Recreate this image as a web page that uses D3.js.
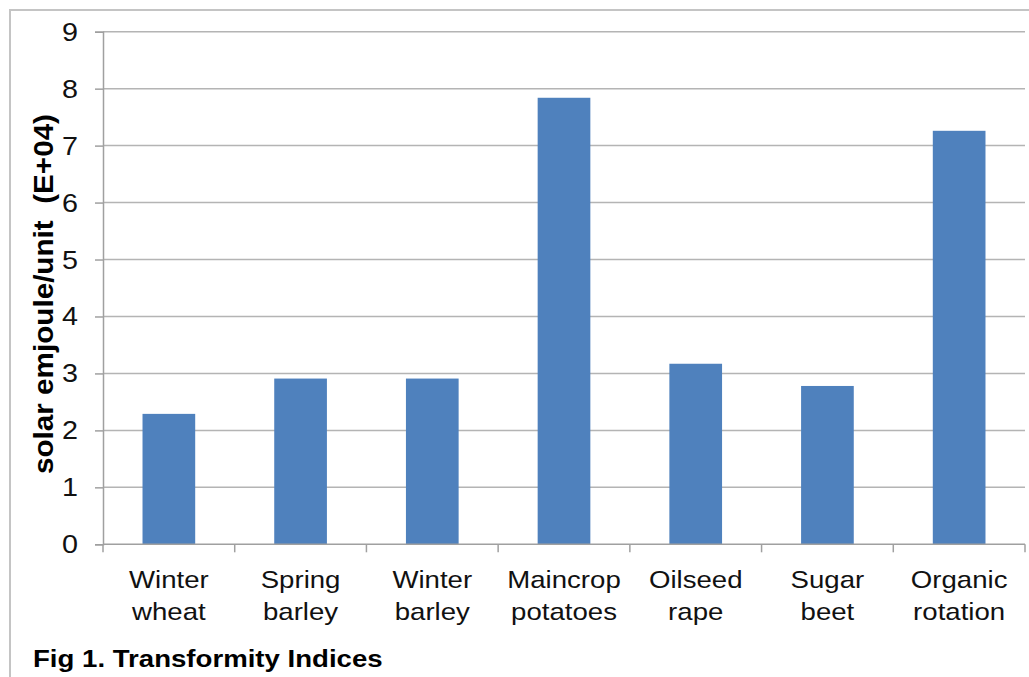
<!DOCTYPE html>
<html>
<head>
<meta charset="utf-8">
<script src="https://cdn.jsdelivr.net/npm/d3@7"></script>
<style>
  html, body { margin: 0; padding: 0; background: #fff; }
  svg { display: block; font-family: "Liberation Sans", Arial, sans-serif; }
</style>
</head>
<body>
<svg id="chart" width="1029" height="677"></svg>
<script>
const categories = [
  ["Winter", "wheat"],
  ["Spring", "barley"],
  ["Winter", "barley"],
  ["Maincrop", "potatoes"],
  ["Oilseed", "rape"],
  ["Sugar", "beet"],
  ["Organic", "rotation"]
];
const values = [2.29, 2.91, 2.91, 7.84, 3.17, 2.78, 7.26];
const yTicks = [0, 1, 2, 3, 4, 5, 6, 7, 8, 9];
const yLabel = "solar emjoule/unit  (E+04)";
const title = "Fig 1. Transformity Indices";

const svg = d3.select("#chart");
const plot = { left: 103, right: 1025, top: 31.7, bottom: 544.3 };
const sx = 1.15; // horizontal stretch of the text seen in the reference

// outer border (left & top visible)
svg.append("path")
  .attr("d", "M10,677 V10 H1029")
  .attr("fill", "none")
  .attr("stroke", "#c4c4c4")
  .attr("stroke-width", 2);

const x = d3.scaleBand()
  .domain(d3.range(categories.length))
  .range([plot.left, plot.right])
  .paddingInner(0.6)
  .paddingOuter(0.3);

const xEdge = d3.scaleLinear()
  .domain([0, categories.length])
  .range([plot.left, plot.right]);

const y = d3.scaleLinear()
  .domain([0, 9])
  .range([plot.bottom, plot.top]);

// gridlines
svg.append("g")
  .selectAll("line")
  .data(yTicks.filter(d => d > 0))
  .join("line")
  .attr("x1", plot.left)
  .attr("x2", plot.right)
  .attr("y1", d => y(d))
  .attr("y2", d => y(d))
  .attr("stroke", "#b4b4b4")
  .attr("stroke-width", 1.5);

// y axis (line + ticks via d3 axis, labels drawn stretched)
const yAxis = d3.axisLeft(y).tickValues(yTicks).tickSize(8).tickFormat("");
const gy = svg.append("g").attr("transform", `translate(${plot.left},0)`).call(yAxis);
gy.select(".domain").attr("stroke", "#a0a0a0").attr("stroke-width", 1.5);
gy.selectAll(".tick line").attr("stroke", "#a0a0a0").attr("stroke-width", 1.5);

svg.append("g")
  .selectAll("text")
  .data(yTicks)
  .join("text")
  .attr("transform", d => `translate(78,${y(d)}) scale(${sx},1)`)
  .attr("text-anchor", "end")
  .attr("dy", "0.36em")
  .attr("font-size", 25)
  .attr("fill", "#111")
  .text(d => d3.format("d")(d));

// bars
svg.append("g")
  .selectAll("rect")
  .data(values)
  .join("rect")
  .attr("x", (d, i) => x(i))
  .attr("width", x.bandwidth())
  .attr("y", d => y(d))
  .attr("height", d => y(0) - y(d))
  .attr("fill", "#4f81bd");

// x axis
svg.append("line")
  .attr("x1", plot.left).attr("x2", plot.right)
  .attr("y1", y(0)).attr("y2", y(0))
  .attr("stroke", "#a0a0a0").attr("stroke-width", 1.5);

svg.append("g")
  .selectAll("line")
  .data(d3.range(categories.length + 1))
  .join("line")
  .attr("x1", d => xEdge(d))
  .attr("x2", d => xEdge(d))
  .attr("y1", y(0))
  .attr("y2", y(0) + 8)
  .attr("stroke", "#a0a0a0")
  .attr("stroke-width", 1.5);

// category labels
const catG = svg.append("g")
  .selectAll("g")
  .data(categories)
  .join("g")
  .attr("transform", (d, i) => `translate(${x(i) + x.bandwidth() / 2},0)`);
catG.selectAll("text")
  .data(d => d)
  .join("text")
  .attr("transform", (d, i) => `translate(0,${588 + i * 32}) scale(${sx},1)`)
  .attr("text-anchor", "middle")
  .attr("font-size", 24)
  .attr("fill", "#111")
  .text(d => d);

// y label
svg.append("text")
  .attr("transform", `translate(53,294) rotate(-90)`)
  .attr("text-anchor", "middle")
  .attr("font-size", 27)
  .attr("font-weight", "bold")
  .attr("fill", "#000")
  .attr("textLength", 360)
  .attr("lengthAdjust", "spacingAndGlyphs")
  .style("white-space", "pre")
  .text(yLabel);

// title
svg.append("text")
  .attr("transform", `translate(33,667) scale(${sx},1)`)
  .attr("font-size", 24)
  .attr("font-weight", "bold")
  .attr("fill", "#000")
  .text(title);
</script>
</body>
</html>
